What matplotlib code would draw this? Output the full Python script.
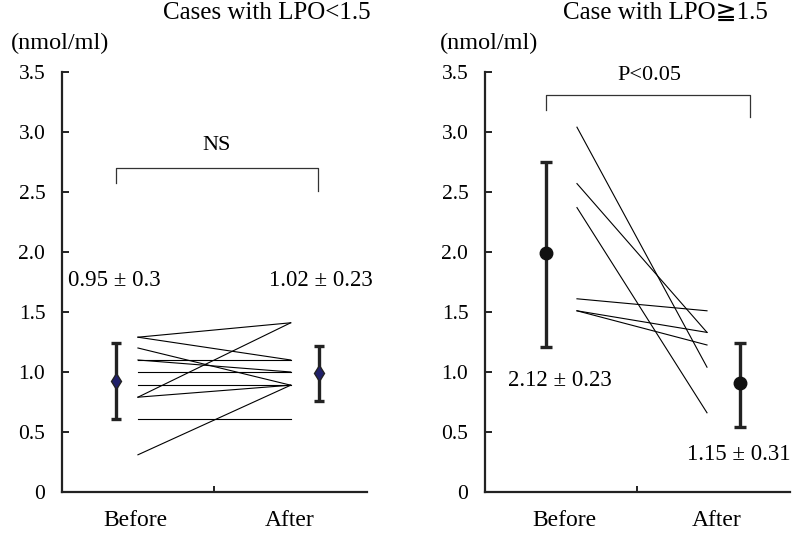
import matplotlib
matplotlib.use('Agg')
import matplotlib.pyplot as plt

plt.rcParams['font.family'] = ['Liberation Serif', 'DejaVu Serif', 'DejaVu Sans']

# individual cases (value before, value after)
low_before = [1.29, 1.29, 1.20, 1.10, 1.10, 1.00, 0.89, 0.79, 0.79, 0.61, 0.31]
low_after = [1.41, 1.10, 0.89, 1.10, 1.00, 1.00, 0.89, 1.41, 0.89, 0.61, 0.89]
high_before = [3.04, 2.57, 2.37, 1.61, 1.51, 1.51]
high_after = [1.04, 1.33, 0.66, 1.51, 1.33, 1.225]

# group mean and error bar extent (lower, upper)
low_mean = [0.925, 0.99]
low_err_lo = [0.315, 0.23]
low_err_hi = [0.315, 0.23]
high_mean = [1.995, 0.91]
high_err_lo = [0.785, 0.37]
high_err_hi = [0.755, 0.33]

low_text = ['0.95 ± 0.3', '1.02 ± 0.23']
high_text = ['2.12 ± 0.23', '1.15 ± 0.31']
groups = ['Before', 'After']
yticks = [0, 0.5, 1.0, 1.5, 2.0, 2.5, 3.0, 3.5]
ylabels = ['0', '0.5', '1.0', '1.5', '2.0', '2.5', '3.0', '3.5']

fig = plt.figure(figsize=(7.92, 5.36), dpi=100)
ax1 = fig.add_axes([0.0783, 0.0821, 0.385, 0.7836])
ax2 = fig.add_axes([0.6124, 0.0821, 0.385, 0.7836])


def style(ax, label_pos):
    ax.set_xlim(0, 2)
    ax.set_ylim(0, 3.5)
    ax.spines['top'].set_visible(False)
    ax.spines['right'].set_visible(False)
    for s in ['left', 'bottom']:
        ax.spines[s].set_linewidth(1.6)
        ax.spines[s].set_color('#222222')
    ax.set_yticks(yticks)
    ax.set_yticklabels(ylabels)
    ax.tick_params(axis='y', direction='in', length=5, width=1.4,
                   pad=12, labelsize=15.5, color='#222222')
    ax.set_xticks([1])
    ax.set_xticklabels([''])
    ax.tick_params(axis='x', which='major', direction='in', length=4, width=1.4,
                   color='#222222')
    ax.set_xticks(label_pos, minor=True)
    ax.set_xticklabels(groups, minor=True)
    ax.tick_params(axis='x', which='minor', length=0, pad=13, labelsize=17)


style(ax1, [0.48, 1.49])
style(ax2, [0.52, 1.52])

# left panel
x0, x1 = 0.498, 1.50
for b, a in zip(low_before, low_after):
    ax1.plot([x0, x1], [b, a], color='black', lw=0.8)
ax1.errorbar([0.354, 1.685], low_mean, yerr=[low_err_lo, low_err_hi], fmt='d',
             color='#222222', mfc='#20206a', mec='#222222', ms=8, elinewidth=2.4,
             capsize=3.8, capthick=2.4)
ax1.plot([0.354, 0.354, 1.68, 1.68], [2.575, 2.70, 2.70, 2.51], color='#333333', lw=0.9)
ax1.text(1.016, 2.89, 'NS', ha='center', va='center', fontsize=16)
ax1.text(0.34, 1.76, low_text[0], ha='center', va='center', fontsize=16.5)
ax1.text(1.70, 1.76, low_text[1], ha='center', va='center', fontsize=16.5)

# right panel
x0, x1 = 0.603, 1.456
for b, a in zip(high_before, high_after):
    ax2.plot([x0, x1], [b, a], color='black', lw=0.8)
ax2.errorbar([0.40, 1.672], high_mean, yerr=[high_err_lo, high_err_hi], fmt='o',
             color='#222222', mfc='#111111', mec='#111111', ms=9, elinewidth=2.4,
             capsize=4.5, capthick=2.4)
ax2.plot([0.40, 0.40, 1.74, 1.74], [3.18, 3.31, 3.31, 3.125], color='#333333', lw=0.9)
ax2.text(1.08, 3.47, 'P<0.05', ha='center', va='center', fontsize=16)
ax2.text(0.49, 0.93, high_text[0], ha='center', va='center', fontsize=16.5)
ax2.text(1.666, 0.31, high_text[1], ha='center', va='center', fontsize=16.5)

fig.text(0.3365, 0.975, 'Cases with LPO<1.5', ha='center', va='center', fontsize=18)
fig.text(0.84, 0.975, 'Case with LPO≧1.5', ha='center', va='center', fontsize=18)
fig.text(0.076, 0.918, '(nmol/ml)', ha='center', va='center', fontsize=17.5)
fig.text(0.617, 0.918, '(nmol/ml)', ha='center', va='center', fontsize=17.5)

plt.savefig('out.png', dpi=100)
